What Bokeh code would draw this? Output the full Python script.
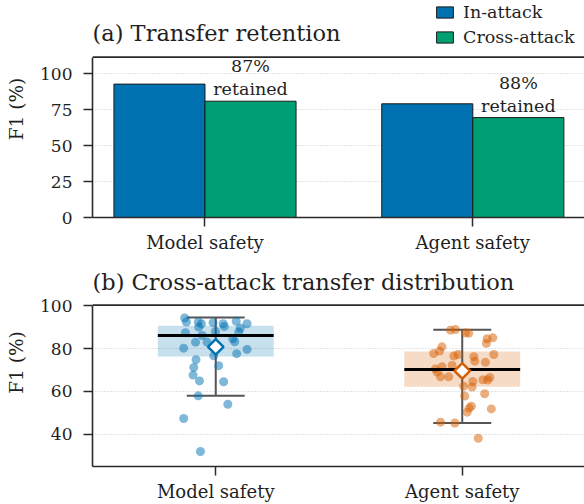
import numpy as np
from bokeh.plotting import figure
from bokeh.layouts import column
from bokeh.models import (Range1d, FixedTicker, Legend, LegendItem, ColumnDataSource,
                          Span, Label)
from bokeh.core.properties import value
from bokeh.embed import file_html
from bokeh.resources import INLINE

# ---------------- data ----------------
categories = ["Model safety", "Agent safety"]
in_attack = [92.8, 79.1]
cross_attack = [80.9, 69.5]

model_vals = [94.3, 92.4, 92.4, 91.6, 90.0, 92.1, 91.6, 90.3, 92.7, 91.6, 89.6, 87.7,
              88.0, 87.4, 86.1, 84.6, 83.0, 83.0, 83.2, 80.2, 79.6, 77.6, 76.6, 74.8,
              71.2, 72.0, 67.6, 64.9, 64.5, 57.9, 54.0, 47.3, 31.9]
model_jitter = [-0.126, -0.119, -0.071, -0.058, -0.069, -0.011, 0.030, 0.035, 0.083, 0.127,
                0.100, 0.093, -0.001, -0.123, -0.055, 0.069, -0.082, -0.035, 0.077, -0.130,
                0.127, 0.085, -0.008, -0.080, -0.089, 0.012, -0.092, -0.066, 0.032, -0.071,
                0.049, -0.130, -0.062]

agent_vals = [88.6, 88.9, 87.4, 87.1, 84.6, 85.0, 82.4, 80.8, 78.8, 77.7, 76.5, 77.2,
              76.2, 74.1, 73.6, 77.2, 70.5, 71.5, 72.1, 69.0, 66.8, 66.8, 64.6, 65.4,
              65.3, 66.5, 62.4, 62.0, 57.8, 58.9, 53.1, 52.2, 50.3, 51.8, 45.6, 45.2, 38.1]
agent_jitter = [-0.048, -0.028, 0.013, 0.026, 0.101, 0.124, 0.098, -0.082, -0.092, -0.116,
                -0.034, -0.017, 0.047, 0.051, 0.094, 0.128, -0.109, -0.082, -0.041, -0.102,
                -0.088, -0.055, 0.043, 0.084, 0.103, 0.112, 0.006, 0.040, 0.010, 0.091,
                0.037, 0.028, 0.020, 0.118, -0.088, -0.030, 0.065]

# box statistics [model, agent]
q1 = [76.3, 62.1]
median = [86.1, 70.2]
q3 = [90.6, 78.6]
whisker_lo = [57.9, 45.2]
whisker_hi = [94.5, 88.8]
means = [80.8, 69.6]

top_ticks = [0, 25, 50, 75, 100]
top_limits = (0, 111.6)
bottom_ticks = [40, 60, 80, 100]
bottom_limits = (24.9, 100.3)

# ---------------- style ----------------
FONT = "DejaVu Serif"
BLUE = "#0072B2"
GREEN = "#009E73"
ORANGE = "#D55E00"
AXC = "#2b2b2b"
TXT = "#1f1f1f"

W = 584
BAR_W = 0.34
BOX_W = 0.47
CAP_W = 0.235


def style_axes(p, yticks, limits, ylabel, title):
    p.outline_line_color = None
    p.xgrid.visible = False
    p.ygrid.ticker = FixedTicker(ticks=yticks)
    p.ygrid.grid_line_color = "#c8c8c8"
    p.ygrid.grid_line_dash = "1 2"
    p.ygrid.grid_line_width = 1
    p.yaxis.ticker = FixedTicker(ticks=yticks)
    p.yaxis.bounds = limits
    p.xaxis.ticker = FixedTicker(ticks=list(range(len(categories))))
    p.xaxis.major_label_overrides = {i: c for i, c in enumerate(categories)}
    for ax in (p.xaxis[0], p.yaxis[0]):
        ax.axis_line_color = AXC
        ax.axis_line_width = 1.6
        ax.major_tick_line_color = AXC
        ax.major_tick_line_width = 1.5
        ax.major_tick_out = 9
        ax.major_tick_in = 0
        ax.minor_tick_out = 0
        ax.minor_tick_in = 0
        ax.major_label_text_font = FONT
        ax.major_label_text_color = TXT
    p.yaxis.major_label_text_font_size = "17px"
    p.yaxis.major_label_standoff = 11
    p.xaxis.major_label_text_font_size = "18px"
    p.xaxis.major_label_standoff = 5
    p.yaxis.axis_label = ylabel
    p.yaxis.axis_label_text_font = FONT
    p.yaxis.axis_label_text_font_size = "18.5px"
    p.yaxis.axis_label_text_font_style = "normal"
    p.yaxis.axis_label_text_color = TXT
    p.yaxis.axis_label_standoff = 10
    # top border of the axes box
    p.add_layout(Span(location=limits[1], dimension="width", line_color=AXC, line_width=1.6))
    p.add_layout(Label(x=0, y=185, x_units="screen", y_units="screen", text=title,
                       text_font=FONT, text_font_size="22.5px", text_color=TXT,
                       text_baseline="alphabetic", text_align="left"))


# ---------------- panel (a) ----------------
H1 = 258
idx = np.arange(len(categories))
src = ColumnDataSource(dict(
    x_in=idx - BAR_W / 2, x_cross=idx + BAR_W / 2,
    in_attack=in_attack, cross_attack=cross_attack,
    label=[f"{round(100 * c / i)}%\nretained" for i, c in zip(in_attack, cross_attack)],
))

# axes box: 0 -> 111.6 spans 160.4 px; frame extends up to the figure top
px1 = 160.4 / (top_limits[1] - top_limits[0])
frame1_h = H1 - 41
p1 = figure(width=W, height=H1, output_backend="svg", toolbar_location=None, title=None,
            x_range=Range1d(-0.42, 1.417),
            y_range=Range1d(top_limits[0], top_limits[0] + frame1_h / px1),
            min_border_left=92, min_border_right=0, min_border_top=0, min_border_bottom=41)
r_in = p1.vbar(x="x_in", top="in_attack", width=BAR_W, source=src, fill_color=BLUE,
               line_color="#1a1a1a", line_width=1)
r_cr = p1.vbar(x="x_cross", top="cross_attack", width=BAR_W, source=src, fill_color=GREEN,
               line_color="#1a1a1a", line_width=1)
p1.text(x="x_cross", y="cross_attack", text="label", source=src, text_align="center",
        text_baseline="bottom", y_offset=-2, text_font=value(FONT), text_font_size="17.5px",
        text_color=TXT, text_line_height=1.15)
style_axes(p1, top_ticks, top_limits, "F1 (%)", "(a) Transfer retention")

legend = Legend(items=[LegendItem(label="In-attack", renderers=[r_in]),
                       LegendItem(label="Cross-attack", renderers=[r_cr])],
                location=(342, 170), orientation="vertical",
                border_line_alpha=0, background_fill_alpha=0, padding=0, margin=0,
                spacing=4, glyph_width=21, glyph_height=14, label_height=21,
                label_standoff=8, label_text_font=FONT, label_text_font_size="17.5px",
                label_text_color=TXT)
p1.add_layout(legend)

# ---------------- panel (b) ----------------
H2 = 504 - H1
px2 = 161.4 / (bottom_limits[1] - bottom_limits[0])
frame2_h = H2 - 38
p2 = figure(width=W, height=H2, output_backend="svg", toolbar_location=None, title=None,
            x_range=Range1d(-0.5, 1.496),
            y_range=Range1d(bottom_limits[0], bottom_limits[0] + frame2_h / px2),
            min_border_left=92, min_border_right=0, min_border_top=0, min_border_bottom=38)

colors = [BLUE, ORANGE]
box = ColumnDataSource(dict(
    x=idx, left=idx - BOX_W / 2, right=idx + BOX_W / 2,
    cap_l=idx - CAP_W / 2, cap_r=idx + CAP_W / 2,
    q1=q1, q3=q3, med=median, lo=whisker_lo, hi=whisker_hi, mean=means, color=colors,
))
p2.quad(left="left", right="right", bottom="q1", top="q3", source=box,
        fill_color="color", fill_alpha=0.22, line_color=None)
p2.segment(x0="x", y0="lo", x1="x", y1="hi", source=box, line_color="#555555", line_width=2)
p2.segment(x0="cap_l", y0="lo", x1="cap_r", y1="lo", source=box, line_color="#555555", line_width=2)
p2.segment(x0="cap_l", y0="hi", x1="cap_r", y1="hi", source=box, line_color="#555555", line_width=2)

for i, (vals, jit) in enumerate([(model_vals, model_jitter), (agent_vals, agent_jitter)]):
    p2.scatter(x=i + np.array(jit), y=vals, size=9, fill_color=colors[i], fill_alpha=0.5,
               line_color=None)

p2.segment(x0="left", y0="med", x1="right", y1="med", source=box, line_color="black", line_width=3)
p2.scatter(x="x", y="mean", source=box, marker="square", angle=np.pi / 4, size=11,
           fill_color="white", line_color="color", line_width=2.5)
style_axes(p2, bottom_ticks, bottom_limits, "F1 (%)", "(b) Cross-attack transfer distribution")

layout = column(p1, p2, spacing=0)
open("out.html", "w").write(file_html(layout, INLINE))
